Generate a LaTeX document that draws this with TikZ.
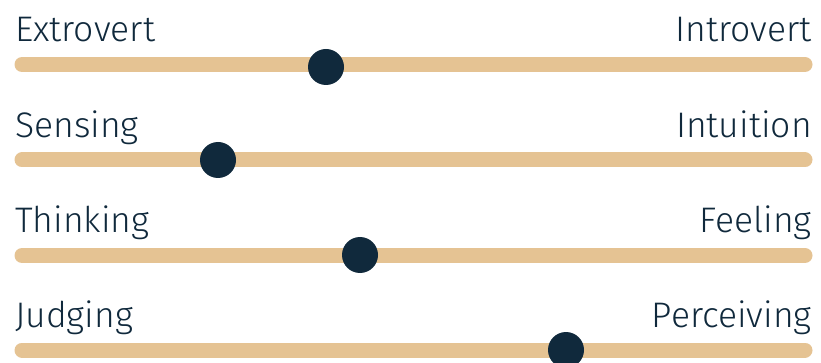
\documentclass[tikz,border=0pt]{standalone}
\usepackage{fontspec}
\setmainfont{Fira Sans Light}
\definecolor{navy}{HTML}{10293C}
\definecolor{sand}{HTML}{E5C393}
\begin{document}
\begin{tikzpicture}[x=1pt,y=-1pt,
  bar/.style={line width=15pt,line cap=round,draw=sand},
  knob/.style={circle,fill=navy,minimum size=36pt,inner sep=0pt},
  lab/.style={text=navy,font=\fontsize{35.5}{40}\selectfont,inner sep=0pt}]
\useasboundingbox (0,0) rectangle (821,363);
\foreach \i/\y/\kx/\ky/\l/\r in {1/64.5/326/67/Extrovert/Introvert,2/160/218/160/Sensing/Intuition,3/255.5/360/255/Thinking/Feeling,4/350/566/350/Judging/Perceiving}{
  \coordinate (L\i) at (22,\y);
  \coordinate (R\i) at (805,\y);
  \draw[bar] (L\i) -- (R\i);
  \node[knob] (K\i) at (\kx,\ky) {};
  \node[lab,anchor=base west] (A\i) at (15,\y-22.5) {\l};
  \node[lab,anchor=base east] (B\i) at (812,\y-22.5) {\r};
}
\end{tikzpicture}
\end{document}
